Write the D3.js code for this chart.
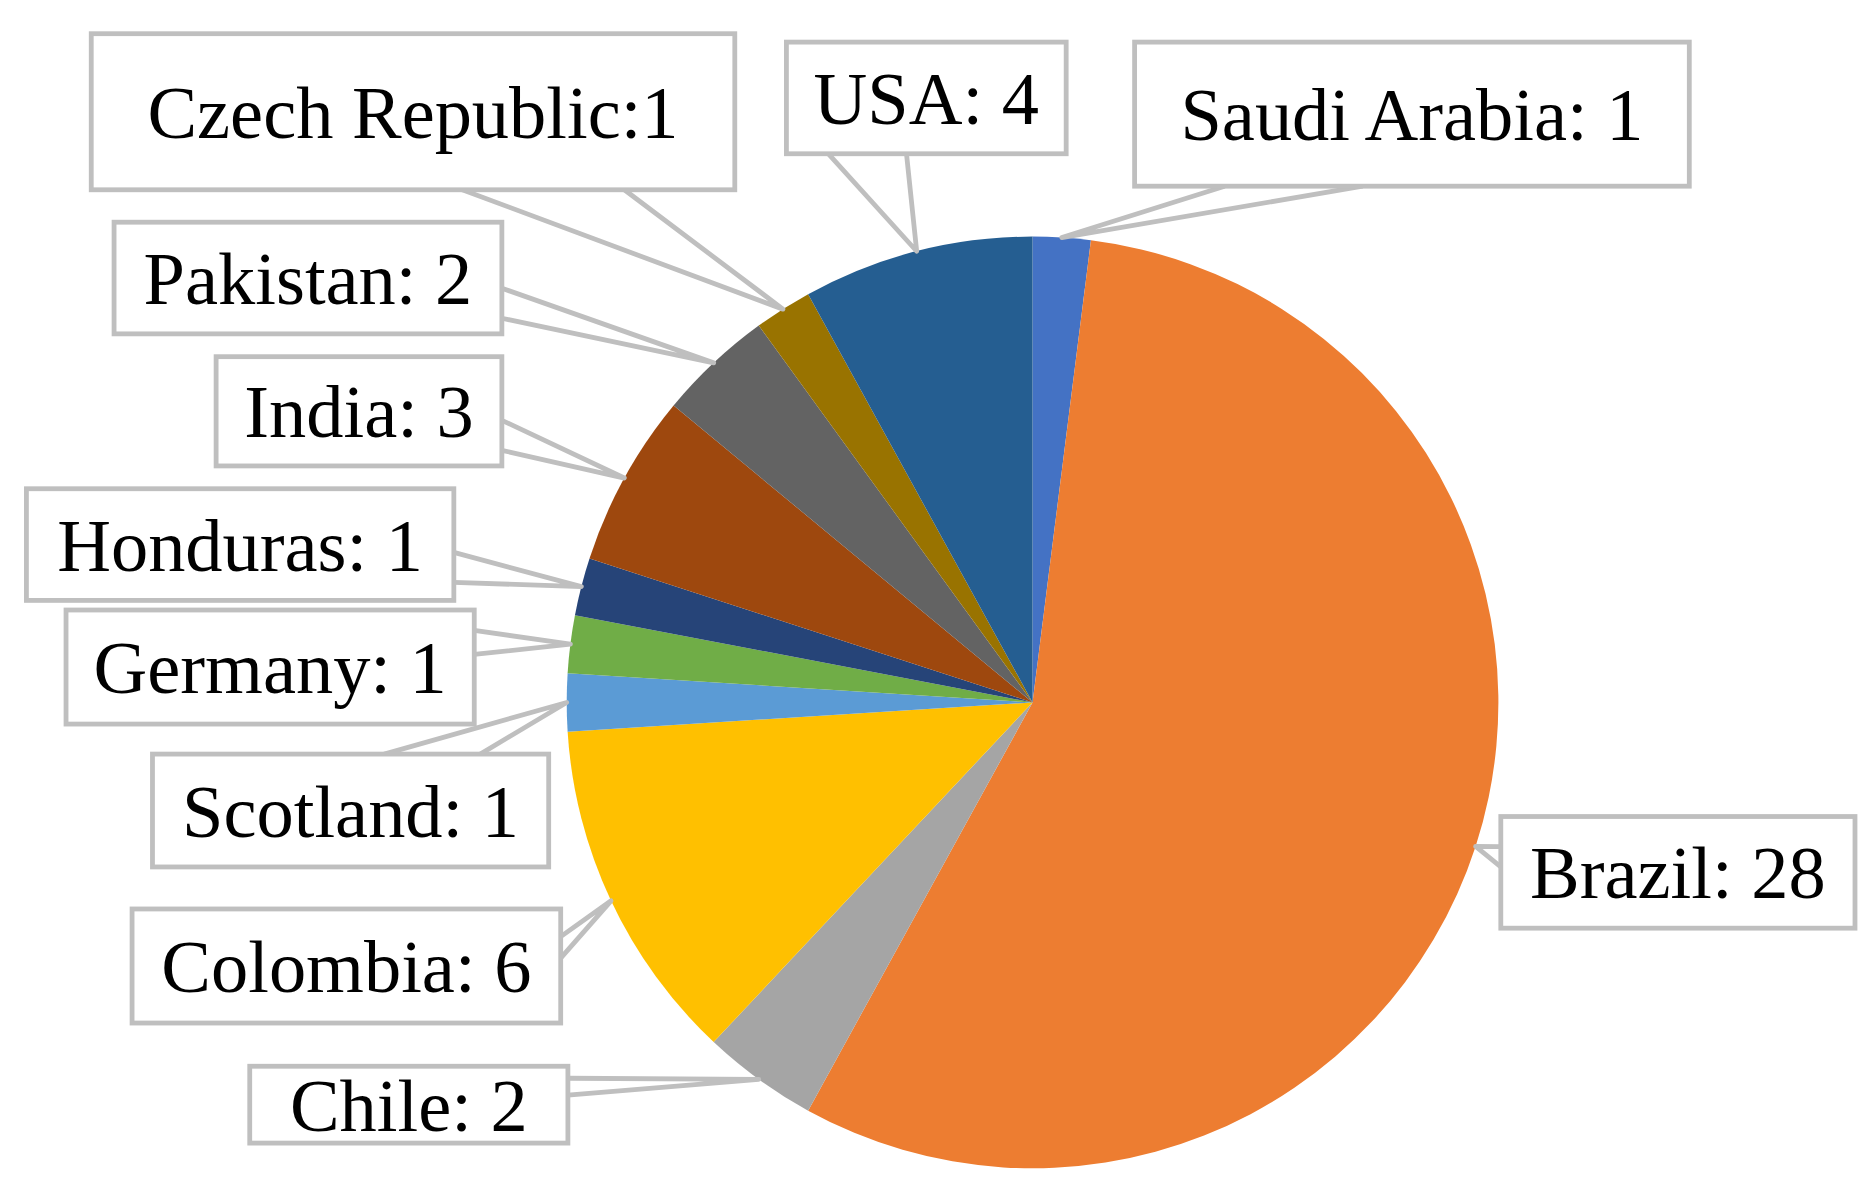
<!DOCTYPE html>
<html>
<head>
<meta charset="utf-8">
<script src="https://cdn.jsdelivr.net/npm/d3@7"></script>
<style>
  body { margin: 0; background: #fff; }
</style>
</head>
<body>
<div id="chart"></div>
<script>
const countries = ["Saudi Arabia", "Brazil", "Chile", "Colombia", "Scotland", "Germany",
  "Honduras", "India", "Pakistan", "Czech Republic", "USA"];
const counts = [1, 28, 2, 6, 1, 1, 1, 3, 2, 1, 4];
const labels = ["Saudi Arabia: 1", "Brazil: 28", "Chile: 2", "Colombia: 6", "Scotland: 1",
  "Germany: 1", "Honduras: 1", "India: 3", "Pakistan: 2", "Czech Republic:1", "USA: 4"];
const colors = ["#4472C4", "#ED7D31", "#A5A5A5", "#FFC000", "#5B9BD5", "#70AD47",
  "#264478", "#9E480E", "#636363", "#997300", "#255E91"];

// callout boxes: [x0, y0, x1, y1], wedge side and base offsets (layout only)
const boxes = [
  { b: [945, 35, 1407, 155], side: "bottom", w: [1020, 1135] },
  { b: [1250, 680, 1545, 773], side: "left", w: [705, 722] },
  { b: [208, 888, 473, 952], side: "right", w: [898, 912] },
  { b: [110, 757, 467, 852], side: "right", w: [780, 798] },
  { b: [127, 628, 457, 722], side: "top", w: [320, 400] },
  { b: [55, 508, 395, 603], side: "right", w: [525, 545] },
  { b: [22, 407, 378, 500], side: "right", w: [460, 485] },
  { b: [180, 297, 418, 388], side: "right", w: [350, 375] },
  { b: [95, 185, 418, 278], side: "right", w: [240, 265] },
  { b: [76, 28, 612, 158], side: "bottom", w: [385, 520] },
  { b: [655, 35, 888, 128], side: "bottom", w: [690, 755] }
];

const W = 1560, H = 991;
const cx = 860, cy = 585, r = 388;
const gray = "#BFBFBF";

const svg = d3.select("#chart").append("svg")
  .attr("width", 1873).attr("height", 1190)
  .attr("viewBox", `0 0 ${W} ${H}`);

const pie = d3.pie().sort(null).value((d) => d)(counts);
const arc = d3.arc().innerRadius(0).outerRadius(r);

const g = svg.append("g").attr("transform", `translate(${cx},${cy})`);
g.selectAll("path").data(pie).enter().append("path")
  .attr("d", arc)
  .attr("fill", (d, i) => colors[i]);

const callouts = svg.append("g");
pie.forEach((d, i) => {
  const m = (d.startAngle + d.endAngle) / 2;
  const tx = cx + r * Math.sin(m), ty = cy - r * Math.cos(m);
  const bx = boxes[i];
  const [x0, y0, x1, y1] = bx.b;
  let p1, p2;
  if (bx.side === "bottom") { p1 = [bx.w[0], y1]; p2 = [bx.w[1], y1]; }
  else if (bx.side === "top") { p1 = [bx.w[0], y0]; p2 = [bx.w[1], y0]; }
  else if (bx.side === "right") { p1 = [x1, bx.w[0]]; p2 = [x1, bx.w[1]]; }
  else { p1 = [x0, bx.w[0]]; p2 = [x0, bx.w[1]]; }
  callouts.append("path")
    .attr("d", `M${p1[0]},${p1[1]}L${tx},${ty}L${p2[0]},${p2[1]}`)
    .attr("fill", "none").attr("stroke", gray).attr("stroke-width", 4)
    .attr("stroke-linejoin", "round");
  callouts.append("rect")
    .attr("x", x0).attr("y", y0).attr("width", x1 - x0).attr("height", y1 - y0)
    .attr("fill", "#fff").attr("stroke", gray).attr("stroke-width", 4);
  callouts.append("text")
    .attr("x", (x0 + x1) / 2).attr("y", (y0 + y1) / 2)
    .attr("dy", "0.35em")
    .attr("text-anchor", "middle")
    .attr("font-family", "'Liberation Serif', 'Times New Roman', serif")
    .attr("font-size", 62)
    .attr("fill", "#000")
    .text(labels[i]);
});
</script>
</body>
</html>
